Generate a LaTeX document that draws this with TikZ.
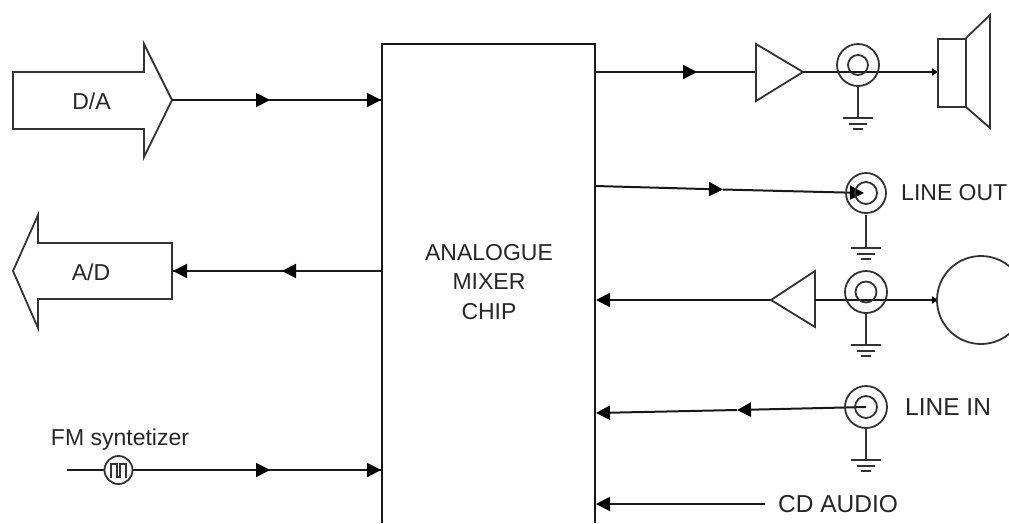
\documentclass[tikz,border=0pt]{standalone}
\usepackage{fontspec}
\setmainfont{Liberation Sans}
\usetikzlibrary{arrows.meta}
\tikzset{
  every picture/.style={x=1pt,y=-1pt},
  wire/.style={draw=black!90,line width=2pt},
  tipped/.style={wire,-{Triangle[length=14pt,width=14pt,color=black]}},
  thin wire/.style={draw=black!80,line width=1.8pt},
  jack/.style={circle,draw=black!80,line width=1.8pt,inner sep=0pt,fill=none},
  lab/.style={inner sep=0pt,text=black!85,font=\fontsize{23}{23}\selectfont},
  biglab/.style={inner sep=0pt,text=black!85,font=\fontsize{24.5}{24.5}\selectfont},
  dot/.style={wire,-{Triangle[length=6pt,width=7pt,color=black]}},
}
\newcommand{\grnd}[1]{%
  \draw[thin wire] (#1) ++(-15,0) -- ++(30,0);
  \draw[thin wire] (#1) ++(-9,6) -- ++(18,0);
  \draw[thin wire] (#1) ++(-5,11) -- ++(10,0);}
\begin{document}
\begin{tikzpicture}
\useasboundingbox (0,0) rectangle (1009,523);
\clip (0,0) rectangle (1009,523);
% chip
\coordinate (cTL) at (382,44); \coordinate (cTR) at (595,44);
\coordinate (cBL) at (382,523); \coordinate (cBR) at (595,523);
\draw[wire] (cBL) -- (cTL) -- (cTR) -- (cBR);
\node[lab,align=center,font=\fontsize{23}{29.5}\selectfont] (chip) at (489,282) {ANALOGUE\\MIXER\\CHIP};
% D/A
\draw[thin wire] (13,72) -- (144,72) -- (144,44) -- (172,100) -- (144,157) -- (144,129) -- (13,129) -- cycle;
\node[lab] (da) at (91.5,101) {D/A};
\coordinate (daT) at (172,100); \coordinate (daM) at (270,100); \coordinate (daE) at (381,100);
\draw[wire] (daT) -- (daE);
\draw[tipped] (daT) -- (daM); \draw[tipped] (daM) -- (daE);
% A/D
\draw[thin wire] (172,243) -- (38,243) -- (38,215) -- (13,271) -- (38,328) -- (38,299) -- (172,299) -- cycle;
\node[lab] (ad) at (91,272) {A/D};
\coordinate (adS) at (382,271); \coordinate (adM) at (282,271); \coordinate (adE) at (173,271);
\draw[wire] (adS) -- (adE);
\draw[tipped] (adS) -- (adM); \draw[tipped] (adM) -- (adE);
% FM
\node[lab] (fmt) at (120,439.5) {FM syntetizer};
\coordinate (fmS) at (67,470); \coordinate (fmM) at (270,470); \coordinate (fmE) at (381,470);
\draw[wire] (fmS) -- (fmE);
\draw[tipped] (fmS) -- (fmM); \draw[tipped] (fmM) -- (fmE);
\node[jack,minimum size=28pt,fill=white] (fm) at (118.5,470) {};
\draw[thin wire] (111,478) -- (111,464) -- (117,464) -- (117,477) -- (120,477) -- (120,464) -- (126,464) -- (126,478);
% speaker output
\coordinate (oS) at (595,72); \coordinate (oM) at (697,72);
\coordinate (amp1) at (756,72);
\draw[wire] (oS) -- (amp1);
\draw[tipped] (oS) -- (oM);
\draw[thin wire] (756,44) -- (803,72) -- (756,101) -- cycle;
\coordinate (ampT) at (803,72); \coordinate (spk) at (938,72);
\coordinate (spkD) at (926,72);
\draw[wire] (ampT) -- (spk);
\draw[dot] (spkD) -- (spk);
\node[jack,minimum size=42pt] (j1) at (858,65) {};
\node[jack,minimum size=20pt] (j1i) at (858,65) {};
\coordinate (g1) at (858,118);
\draw[thin wire] (j1) -- (g1);
\grnd{g1}
\draw[thin wire] (938,39) rectangle (966,107);
\draw[thin wire] (966,38) -- (990,15) -- (990,128) -- (966,107);
% line out
\coordinate (loS) at (595,186); \coordinate (loM) at (723,189.5); \coordinate (loE) at (864,193);
\draw[tipped] (loS) -- (loM); \draw[tipped] (loM) -- (loE);
\node[jack,minimum size=40pt] (j2) at (866,193) {};
\node[jack,minimum size=22pt] (j2i) at (866,193) {};
\coordinate (g2) at (866,248);
\draw[thin wire] (866,215) -- (g2);
\grnd{g2}
\node[lab,anchor=west] (lo) at (901,193) {LINE OUT};
% mic
\coordinate (mS) at (771,300); \coordinate (mE) at (596,300);
\draw[tipped] (mS) -- (mE);
\draw[thin wire] (815,271) -- (771,300) -- (815,327) -- cycle;
\coordinate (mB) at (815,300); \coordinate (mC) at (938,300);
\coordinate (mD) at (926,300);
\draw[wire] (mB) -- (mC);
\draw[dot] (mD) -- (mC);
\node[jack,minimum size=42pt] (j3) at (866,292) {};
\node[jack,minimum size=21pt] (j3i) at (866,292) {};
\coordinate (g3) at (866,345);
\draw[thin wire] (j3) -- (g3);
\grnd{g3}
\node[jack,minimum size=88pt] (mic) at (981,300) {};
% line in
\coordinate (liS) at (866,407); \coordinate (liM) at (737,410); \coordinate (liE) at (596,413);
\draw[tipped] (liS) -- (liM); \draw[tipped] (liM) -- (liE);
\node[jack,minimum size=42pt] (j4) at (866,407) {};
\node[jack,minimum size=22pt] (j4i) at (866,407) {};
\coordinate (g4) at (866,460);
\draw[thin wire] (j4) -- (g4);
\grnd{g4}
\node[biglab,anchor=west] (li) at (905,407) {LINE IN};
% CD audio
\node[biglab,anchor=west] (cd) at (778,504) {CD AUDIO};
\coordinate (cdS) at (765,504); \coordinate (cdE) at (596,504);
\draw[tipped] (cdS) -- (cdE);
\end{tikzpicture}
\end{document}
